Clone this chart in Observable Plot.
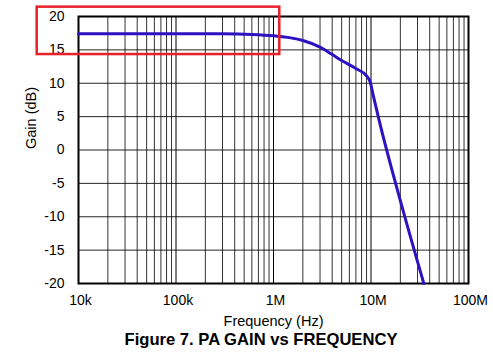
<!DOCTYPE html>
<html>
<head>
<meta charset="utf-8">
<script src="https://cdn.jsdelivr.net/npm/d3@7"></script>
<script src="https://cdn.jsdelivr.net/npm/@observablehq/plot@0.6"></script>
<style>
  html, body { margin: 0; padding: 0; background: #fff; }
  svg { display: block; }
</style>
</head>
<body>
<div id="chart"></div>
<script>
// Data
const freqHz = [1e4, 1e5, 3e5, 6e5, 1e6, 1.5e6, 2e6, 3e6, 4e6, 5e6, 7e6, 9e6, 9.8e6, 10.5e6, 12e6, 20e6, 34.8e6];
const gainDb = [17.4, 17.4, 17.4, 17.3, 17.1, 16.8, 16.4, 15.4, 14.3, 13.4, 12.2, 11.1, 10.2, 8.3, 4.7, -7.6, -20];

const freqTicks = [1e4, 1e5, 1e6, 1e7, 1e8];
const freqTickLabels = ["10k", "100k", "1M", "10M", "100M"];
const gainTicks = [-20, -15, -10, -5, 0, 5, 10, 15, 20];
const minorMultipliers = [2, 3, 4, 5, 6, 7, 8, 9];
const decades = [1e4, 1e5, 1e6, 1e7];

const xLabel = "Frequency (Hz)";
const yLabel = "Gain (dB)";
const figureTitle = "Figure 7. PA GAIN vs FREQUENCY";

// highlight box (annotation) in data coordinates
const highlightX = [3.77e3, 1.16e6];
const highlightY = [14.3, 21.4];

const curve = freqHz.map((f, i) => ({f, g: gainDb[i]}));
const minorFreqs = decades.flatMap(d => minorMultipliers.map(m => m * d));
const labelMap = new Map(freqTicks.map((t, i) => [t, freqTickLabels[i]]));

const font = "Arial, 'Liberation Sans', sans-serif";

const chart = Plot.plot({
  width: 493,
  height: 361,
  marginLeft: 78,
  marginRight: 25,
  marginTop: 16,
  marginBottom: 78,
  style: {fontFamily: font, fontSize: "14px", color: "#000", background: "#fff"},
  x: {type: "log", domain: [1e4, 1e8]},
  y: {domain: [-20, 20]},
  marks: [
    Plot.ruleX(minorFreqs, {stroke: "#000", strokeOpacity: 0.8, strokeWidth: 1}),
    Plot.ruleX(freqTicks, {stroke: "#000", strokeWidth: 1}),
    Plot.ruleY(gainTicks, {stroke: "#000", strokeOpacity: 0.85, strokeWidth: 1}),
    Plot.frame({stroke: "#000", strokeWidth: 2}),
    Plot.line(curve, {x: "f", y: "g", stroke: "#2c12c2", strokeWidth: 3, curve: "monotone-x"}),
    Plot.axisX(freqTicks, {tickSize: 0, tickPadding: 12, dx: 2, tickFormat: d => labelMap.get(d), fontSize: 14, label: null}),
    Plot.axisY(gainTicks, {tickSize: 0, tickPadding: 14, tickFormat: d => String(d), fontSize: 14, label: null}),
    Plot.text([xLabel], {frameAnchor: "bottom", dy: 42, fontSize: 14.5}),
    Plot.text([figureTitle], {frameAnchor: "bottom", dx: -12.5, dy: 61, fontSize: 16.6, fontWeight: "bold"}),
    Plot.text([yLabel], {frameAnchor: "left", dx: -47, dy: -1, rotate: -90, fontSize: 14.5}),
    Plot.rect([{x1: highlightX[0], x2: highlightX[1], y1: highlightY[0], y2: highlightY[1]}],
      {x1: "x1", x2: "x2", y1: "y1", y2: "y2", fill: "none", stroke: "#e8202a", strokeWidth: 2.5, clip: false})
  ]
});
document.getElementById("chart").appendChild(chart);
</script>
</body>
</html>
